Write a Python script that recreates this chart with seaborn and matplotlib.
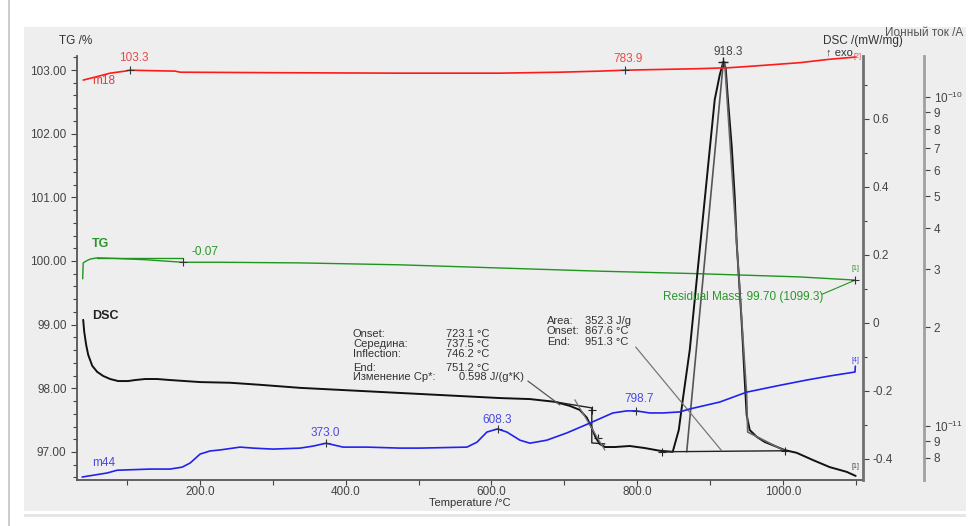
import matplotlib
matplotlib.use('Agg')
import matplotlib.pyplot as plt
import seaborn as sns
from matplotlib.patches import Rectangle
from matplotlib.ticker import FixedLocator, FixedFormatter, MultipleLocator, FormatStrFormatter, NullLocator

# ---- data ----
# TG (%)
tg_T = [38.8, 39.5, 43.6, 49.1, 58.7, 85.0, 125.0, 150.0, 176.7, 227.4, 337.2, 474.3, 611.5, 748.7, 885.9, 968.2, 1023.0, 1099.3]
tg_val = [99.72, 99.97, 100.0, 100.03, 100.05, 100.04, 100.02, 100.0, 99.98, 99.98, 99.97, 99.94, 99.89, 99.84, 99.80, 99.77, 99.75, 99.70]
tg_step_T = [58.7, 176.7]
tg_step_val = [100.05, 100.05]
tg_change = -0.07
residual_T = 1099.3
residual_val = 99.70

# DSC (mW/mg)
dsc_T = [39.5, 40.9, 43.6, 46.4, 51.9, 58.7, 66.9, 76.5, 87.5, 101.2, 110.8, 124.6, 141.0, 158.8, 179.4,
         200.0, 241.2, 282.3, 337.2, 392.0, 446.9, 501.8, 556.7, 611.5, 652.7, 687.0, 707.5, 721.3, 730.9,
         737.7, 743.2, 748.7, 755.6, 769.3, 789.8, 810.4, 831.0, 848.8, 857.1, 862.6, 872.2, 879.0,
         892.7, 906.4, 913.3, 918.3, 921.5, 924.3, 929.8, 933.9, 936.6, 940.7, 943.5, 947.6, 950.3,
         954.5, 964.1, 975.0, 988.8, 1002.5, 1018.9, 1040.9, 1064.2, 1087.5, 1099.9]
dsc_val = [0.009, -0.026, -0.065, -0.094, -0.126, -0.144, -0.156, -0.165, -0.171, -0.171, -0.168, -0.165, -0.165, -0.168, -0.171,
           -0.174, -0.176, -0.182, -0.191, -0.197, -0.203, -0.209, -0.215, -0.221, -0.224, -0.232, -0.244, -0.256, -0.279,
           -0.309, -0.338, -0.356, -0.365, -0.365, -0.362, -0.368, -0.376, -0.379, -0.315, -0.226, -0.079, 0.068,
           0.362, 0.656, 0.729, 0.768, 0.750, 0.665, 0.518, 0.371, 0.235, 0.097, 0.0, -0.168, -0.271,
           -0.315, -0.335, -0.350, -0.362, -0.374, -0.382, -0.403, -0.424, -0.438, -0.450]
dsc_peak_T = [918.3]
dsc_peak_val = [0.768]
# evaluation constructions
step_T = [687.0, 737.7, 737.7, 755.6]
step_val = [-0.232, -0.250, -0.353, -0.356]
step_cross_T = [737.7, 746.0]
step_cross_val = [-0.256, -0.338]
cp_lead_T = [650.0, 693.8]
cp_lead_val = [-0.171, -0.241]
infl_T = [714.4, 755.6]
infl_val = [-0.226, -0.374]
tan_left_T = [868.0, 918.3]
tan_left_val = [-0.379, 0.768]
tan_right_T = [920.1, 950.3, 951.7, 1002.5]
tan_right_val = [0.768, -0.210, -0.321, -0.376]
base_T = [833.7, 1002.5]
base_val = [-0.379, -0.376]
area_lead_T = [798.0, 916.0]
area_lead_val = [-0.071, -0.376]

# ion currents (A)
m18_T = [39.5, 56.0, 76.5, 97.1, 103.3, 131.4, 165.7, 172.6, 296.0, 474.3, 611.5, 693.8, 748.7, 783.9,
         885.9, 927.0, 968.2, 1023.0, 1064.2, 1099.9]
m18_val = [1.127e-10, 1.151e-10, 1.183e-10, 1.200e-10, 1.208e-10, 1.204e-10, 1.200e-10, 1.191e-10, 1.187e-10,
           1.183e-10, 1.183e-10, 1.191e-10, 1.200e-10, 1.208e-10, 1.221e-10, 1.229e-10, 1.247e-10, 1.273e-10,
           1.304e-10, 1.324e-10]
m18_peak_T = [103.3, 783.9]
m18_peak_val = [1.208e-10, 1.208e-10]

m44_T = [38.1, 72.4, 86.1, 131.4, 158.8, 175.3, 186.3, 200.0, 213.7, 227.4, 254.9, 272.7, 300.1, 337.2, 355.0,
         373.0, 396.2, 429.1, 474.3, 501.8, 566.3, 580.0, 593.7, 608.3, 621.1, 639.0, 652.7, 676.0, 703.4, 735.0,
         766.5, 785.7, 798.7, 817.3, 835.1, 858.4, 872.1, 913.3, 950.3, 995.6, 1032.6, 1064.2, 1099.0, 1099.5]
m44_val = [7.00e-12, 7.20e-12, 7.34e-12, 7.40e-12, 7.40e-12, 7.50e-12, 7.72e-12, 8.22e-12, 8.40e-12, 8.46e-12,
           8.63e-12, 8.57e-12, 8.51e-12, 8.57e-12, 8.69e-12, 8.87e-12, 8.63e-12, 8.63e-12, 8.57e-12, 8.57e-12,
           8.63e-12, 8.93e-12, 9.59e-12, 9.80e-12, 9.59e-12, 9.06e-12, 8.87e-12, 9.06e-12, 9.53e-12, 1.021e-11,
           1.096e-11, 1.112e-11, 1.112e-11, 1.096e-11, 1.096e-11, 1.104e-11, 1.127e-11, 1.183e-11, 1.268e-11,
           1.330e-11, 1.380e-11, 1.420e-11, 1.460e-11, 1.520e-11]
m44_peak_T = [373.0, 608.3, 798.7]
m44_peak_val = [8.87e-12, 9.80e-12, 1.112e-11]

# ticks
tg_ticks = [97, 98, 99, 100, 101, 102, 103]
dsc_ticks = [-0.4, -0.2, 0, 0.2, 0.4, 0.6]
ion_ticks = [1e-10, 9e-11, 8e-11, 7e-11, 6e-11, 5e-11, 4e-11, 3e-11, 2e-11, 1e-11, 9e-12, 8e-12]
ion_labels = ['$10^{-10}$', '9', '8', '7', '6', '5', '4', '3', '2', '$10^{-11}$', '9', '8']

box1_names = ['Onset:', 'Середина:', 'Inflection:', 'End:', 'Изменение Cp*:']
box1_values = ['723.1 °C', '737.5 °C', '746.2 °C', '751.2 °C', '0.598 J/(g*K)']
box2_names = ['Area:', 'Onset:', 'End:']
box2_values = ['352.3 J/g', '867.6 °C', '951.3 °C']

# ---- style ----
sns.set_theme(style='white', rc={'axes.facecolor': 'none', 'figure.facecolor': 'white'})
plt.rcParams['font.family'] = ['Liberation Sans', 'DejaVu Sans']
plt.rcParams['mathtext.fontset'] = 'custom'
plt.rcParams['mathtext.rm'] = 'Liberation Sans'
plt.rcParams['axes.unicode_minus'] = False

W, H = 970, 526
fig = plt.figure(figsize=(9.7, 5.26), dpi=100)
fig.patches.append(Rectangle((24 / W, 1 - 511 / H), 942 / W, 484 / H, transform=fig.transFigure,
                             facecolor='#eeeeee', edgecolor='none', zorder=-10))
fig.patches.append(Rectangle((24 / W, 1 - 517 / H), 942 / W, 3 / H, transform=fig.transFigure,
                             facecolor='#e6e6e6', edgecolor='none', zorder=-10))
fig.lines.append(plt.Line2D([9 / W, 9 / W], [0, 1], transform=fig.transFigure, color='#c4c4c4', lw=1.2))


def ftxt(x, y, s, **kw):
    kw.setdefault('va', 'center')
    kw.setdefault('fontsize', 8.5)
    fig.text(x / W, 1 - y / H, s, **kw)


ax = fig.add_axes([77 / W, 1 - 480 / H, 786 / W, 424 / H])
ax2 = ax.twinx()
ax3 = ax.twinx()
ax3.set_yscale('log')

tick_col = '#444444'
for a in (ax, ax2, ax3):
    for s in a.spines.values():
        s.set_visible(False)
    a.tick_params(colors=tick_col, labelsize=8.5, direction='out', length=4, width=0.8)
    a.tick_params(which='minor', colors=tick_col, direction='out', length=3, width=0.8)

ax.spines['left'].set_visible(True)
ax.spines['bottom'].set_visible(True)
ax.spines['left'].set_color('#555555')
ax.spines['bottom'].set_color('#555555')
ax.spines['left'].set_linewidth(1.3)
ax.spines['bottom'].set_linewidth(1.3)
ax2.spines['right'].set_visible(True)
ax2.spines['right'].set_color('#707070')
ax2.spines['right'].set_linewidth(2)
ax3.spines['right'].set_visible(True)
ax3.spines['right'].set_color('#a0a0a0')
ax3.spines['right'].set_linewidth(2)
ax3.spines['right'].set_position(('axes', 847 / 786))

# ---- curves ----
sns.lineplot(x=tg_T, y=tg_val, ax=ax, color='#1e961e', lw=1.0, estimator=None, sort=False)
ax.plot(tg_step_T, tg_step_val, color='#1e961e', lw=1.0)
ax.plot([tg_step_T[1]], [tg_val[8]], marker='+', color='#333333', ms=6, mew=0.8)
ax.plot([residual_T - 45, residual_T], [residual_val - 0.22, residual_val], color='#1e961e', lw=0.8)
ax.plot([residual_T], [residual_val], marker='+', color='#333333', ms=6, mew=0.8)

sns.lineplot(x=dsc_T, y=dsc_val, ax=ax2, color='#111111', lw=1.4, estimator=None, sort=False)
ax2.plot(tan_left_T, tan_left_val, color='#555555', lw=1.2)
ax2.plot(tan_right_T, tan_right_val, color='#666666', lw=1.2)
ax2.plot(base_T, base_val, color='#222222', lw=1.0)
ax2.plot(base_T, base_val, ls='none', marker='+', color='#222222', ms=6, mew=0.8)
ax2.plot(area_lead_T, area_lead_val, color='#777777', lw=0.9)
ax2.plot(step_T, step_val, color='#222222', lw=1.0)
ax2.plot(step_cross_T, step_cross_val, ls='none', marker='+', color='#222222', ms=6, mew=0.8)
ax2.plot(cp_lead_T, cp_lead_val, color='#555555', lw=0.9)
ax2.plot(infl_T, infl_val, color='#777777', lw=0.9)
ax2.plot(dsc_peak_T, dsc_peak_val, ls='none', marker='+', color='#222222', ms=7, mew=1)

sns.lineplot(x=m18_T, y=m18_val, ax=ax3, color='#ff1a1a', lw=1.2, estimator=None, sort=False)
ax3.plot(m18_peak_T, m18_peak_val, ls='none', marker='+', color='#333333', ms=6, mew=0.8)
sns.lineplot(x=m44_T, y=m44_val, ax=ax3, color='#2222ee', lw=1.2, estimator=None, sort=False)
ax3.plot(m44_peak_T, m44_peak_val, ls='none', marker='+', color='#333333', ms=6, mew=0.8)

# ---- scales / ticks ----
ax.set_xlim(31, 1110)
ax.set_ylim(96.56, 103.22)
ax2.set_ylim(-0.462, 0.785)
ax3.set_ylim(6.855e-12, 1.334e-10)

ax.xaxis.set_major_locator(MultipleLocator(200))
ax.xaxis.set_minor_locator(MultipleLocator(100))
ax.xaxis.set_major_formatter(FormatStrFormatter('%.1f'))
ax.yaxis.set_major_locator(FixedLocator(tg_ticks))
ax.yaxis.set_minor_locator(MultipleLocator(0.2))
ax.yaxis.set_major_formatter(FormatStrFormatter('%.2f'))
ax.tick_params(axis='x', which='both', bottom=True, pad=1, length=3.5)
ax.tick_params(axis='y', which='both', left=True)

ax2.yaxis.set_major_locator(FixedLocator(dsc_ticks))
ax2.yaxis.set_major_formatter(FixedFormatter(['%g' % v for v in dsc_ticks]))
ax2.yaxis.set_minor_locator(MultipleLocator(0.1))
ax2.tick_params(axis='y', which='both', right=True, pad=3)

ax3.yaxis.set_major_locator(FixedLocator(ion_ticks))
ax3.yaxis.set_major_formatter(FixedFormatter(ion_labels))
ax3.yaxis.set_minor_locator(NullLocator())
ax3.tick_params(axis='y', which='both', right=True, pad=3)

for a in (ax, ax2, ax3):
    a.set_xlabel('')
    a.set_ylabel('')

# ---- texts ----
ftxt(76, 41, 'TG /%', ha='center', color='#333333')
ftxt(863, 41, 'DSC /(mW/mg)', ha='center', color='#333333')
ftxt(839, 52, '↑ exo', ha='center', color='#333333', fontsize=8)
ftxt(924, 33, 'Ионный ток /A', ha='center', color='#555555')
ftxt(470, 503, 'Temperature /°C', ha='center', color='#333333', fontsize=8)

ftxt(92, 81, 'm18', color='#e03a3a')
ftxt(134, 58, '%.1f' % m18_peak_T[0], ha='center', color='#e84848')
ftxt(628, 59, '%.1f' % m18_peak_T[1], ha='center', color='#e84848')
ftxt(728, 52, '%.1f' % dsc_peak_T[0], ha='center', color='#444444')
ftxt(858, 56, '[2]', ha='center', color='#e84848', fontsize=5)

ftxt(92, 244, 'TG', color='#2a962a', fontweight='bold', fontsize=9)
ftxt(192, 252, '%.2f' % tg_change, color='#2a962a')
ftxt(663, 297, 'Residual Mass: %.2f (%.1f)' % (residual_val, residual_T), color='#2a962a')
ftxt(855, 268, '[1]', ha='center', color='#2a962a', fontsize=5)

ftxt(92, 316, 'DSC', color='#222222', fontweight='bold', fontsize=9)
ftxt(855, 466, '[1]', ha='center', color='#444444', fontsize=5)

ftxt(92, 463, 'm44', color='#4a4ae0')
ftxt(325, 433, '%.1f' % m44_peak_T[0], ha='center', color='#4a4ae0')
ftxt(497, 420, '%.1f' % m44_peak_T[1], ha='center', color='#4a4ae0')
ftxt(639, 399, '%.1f' % m44_peak_T[2], ha='center', color='#4a4ae0')
ftxt(855, 360, '[4]', ha='center', color='#4a4ae0', fontsize=5)

for i, (n, v) in enumerate(zip(box1_names, box1_values)):
    y = [334, 344, 354, 368, 377][i]
    ftxt(353, y, n, color='#333333', fontsize=8)
    ftxt(459 if i == 4 else 446, y, v, color='#333333', fontsize=8)
for i, (n, v) in enumerate(zip(box2_names, box2_values)):
    y = 321 + 10.5 * i
    ftxt(547, y, n, color='#333333', fontsize=8)
    ftxt(585, y, v, color='#333333', fontsize=8)

fig.savefig('out.png', dpi=100)
